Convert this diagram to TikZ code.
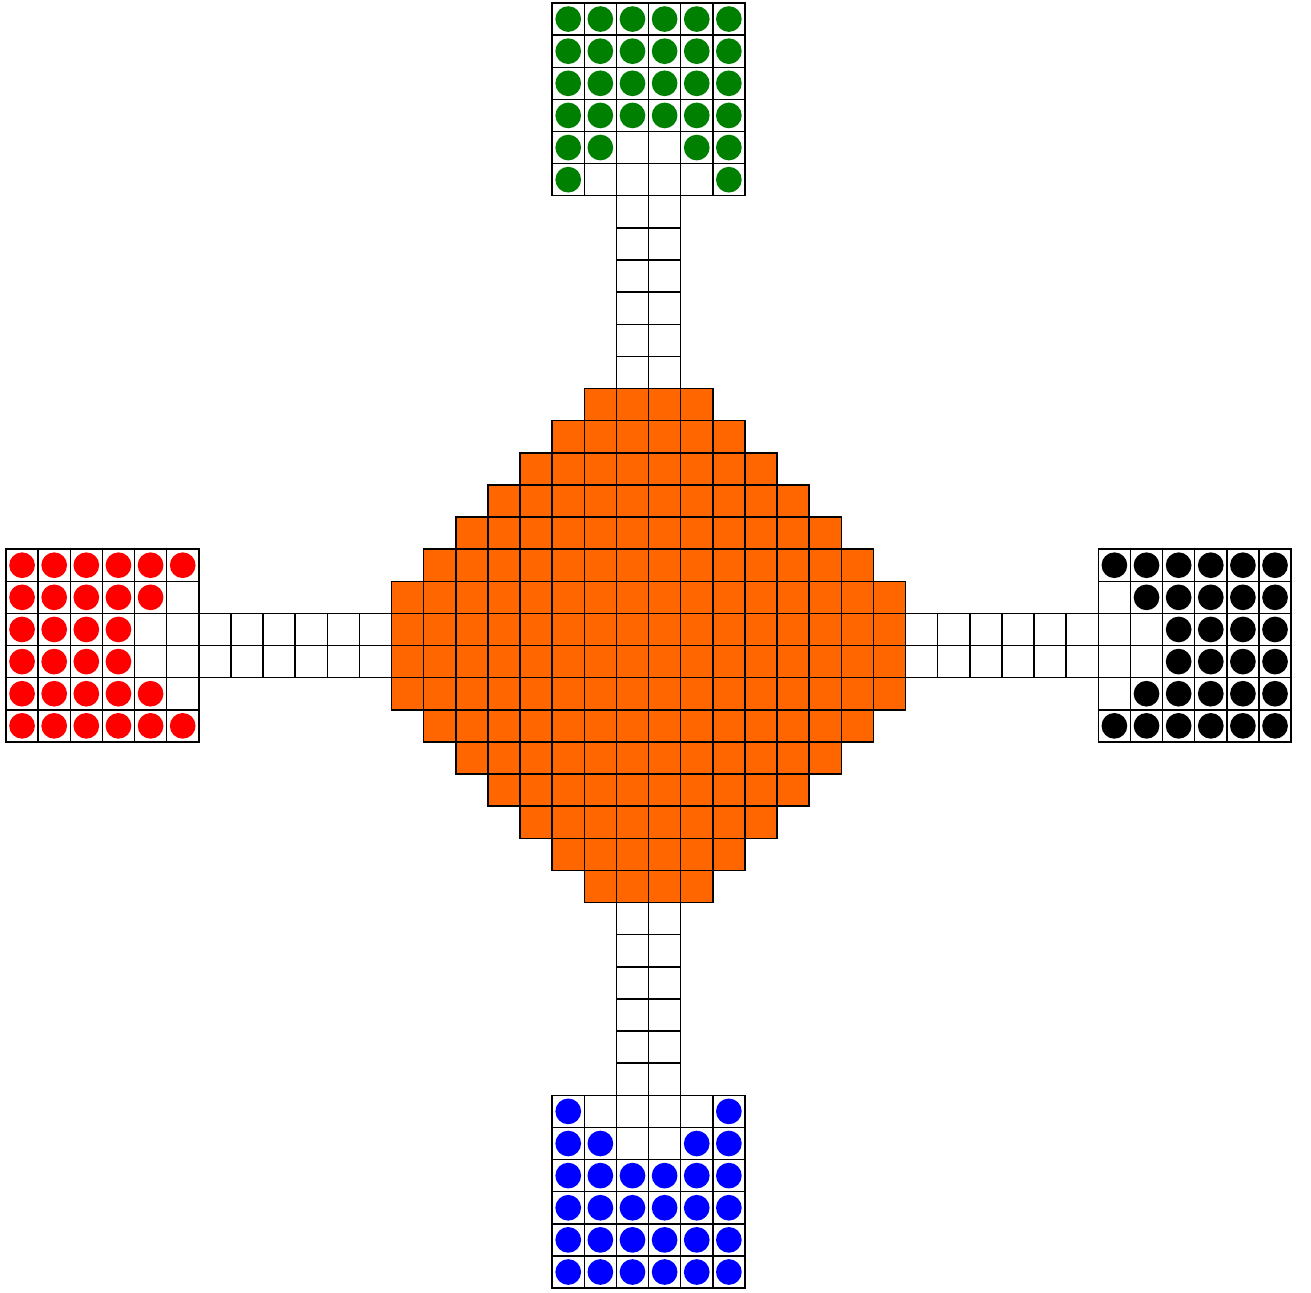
\documentclass[tikz,border=0pt]{standalone}
\usepackage{xcolor}
\usepackage{tikz}
\definecolor{boardorange}{RGB}{255,102,0}
\definecolor{pawngreen}{RGB}{0,128,0}
\tikzset{
  cellbox/.style={draw=black, line width=1.3pt, fill=white},
  homecell/.style={draw=black, line width=1.3pt, fill=boardorange},
  pawn/.style={fill=#1}
}

\begin{document}
\begin{tikzpicture}
\useasboundingbox (-0.187,0.093) rectangle (40.62,-40.125);
% tracks
\foreach \r in {6,...,11} \foreach \c in {19,20} {\draw[cellbox] (\c,-\r) rectangle ++(1,-1);}
\foreach \r in {28,...,33} \foreach \c in {19,20} {\draw[cellbox] (\c,-\r) rectangle ++(1,-1);}
\foreach \c in {6,...,11} \foreach \r in {19,20} {\draw[cellbox] (\c,-\r) rectangle ++(1,-1);}
\foreach \c in {28,...,33} \foreach \r in {19,20} {\draw[cellbox] (\c,-\r) rectangle ++(1,-1);}
% centre
\foreach \r/\w in {12/2,13/3,14/4,15/5,16/6,17/7,18/8,19/8,20/8,21/8,22/7,23/6,24/5,25/4,26/3,27/2}
  \foreach \i in {1,...,\w} {
    \draw[homecell] (20-\i,-\r) rectangle ++(1,-1);
    \draw[homecell] (19+\i,-\r) rectangle ++(1,-1);
  }
% yards
\foreach \x/\y in {17/0,17/34,0/17,34/17}
  \foreach \i in {0,...,5} \foreach \j in {0,...,5}
    {\draw[cellbox] (\x+\i,-\y-\j) rectangle ++(1,-1);}
% pawns
\foreach \c in {17,...,22} \foreach \r in {0,...,3} {\fill[pawn=pawngreen] (\c+.5,-\r-.5) circle (0.4);}
\foreach \c/\r in {17/4,18/4,21/4,22/4,17/5,22/5} {\fill[pawn=pawngreen] (\c+.5,-\r-.5) circle (0.4);}
\foreach \c in {17,...,22} \foreach \r in {36,...,39} {\fill[pawn=blue] (\c+.5,-\r-.5) circle (0.4);}
\foreach \c/\r in {17/35,18/35,21/35,22/35,17/34,22/34} {\fill[pawn=blue] (\c+.5,-\r-.5) circle (0.4);}
\foreach \c in {0,...,3} \foreach \r in {17,...,22} {\fill[pawn=red] (\c+.5,-\r-.5) circle (0.4);}
\foreach \c/\r in {4/17,4/18,4/21,4/22,5/17,5/22} {\fill[pawn=red] (\c+.5,-\r-.5) circle (0.4);}
\foreach \c in {36,...,39} \foreach \r in {17,...,22} {\fill[pawn=black] (\c+.5,-\r-.5) circle (0.4);}
\foreach \c/\r in {35/17,35/18,35/21,35/22,34/17,34/22} {\fill[pawn=black] (\c+.5,-\r-.5) circle (0.4);}
\end{tikzpicture}
\end{document}
